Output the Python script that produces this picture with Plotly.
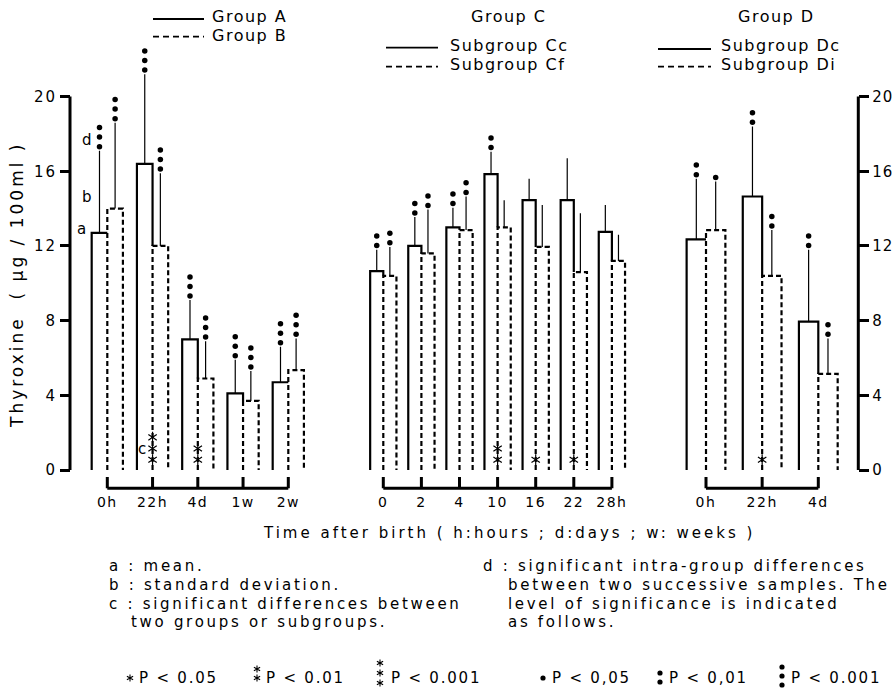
import math
import plotly.graph_objects as go

# ---------------- data ----------------
left_cats = ["0h", "22h", "4d", "1w", "2w"]
groupA_mean = [12.7, 16.4, 7.0, 4.1, 4.7]
groupA_sd = [4.4, 4.8, 2.1, 1.8, 1.9]
groupA_dots = [3, 3, 3, 3, 3]
groupB_mean = [14.0, 12.0, 4.9, 3.7, 5.35]
groupB_sd = [4.6, 3.9, 2.0, 1.6, 1.7]
groupB_dots = [3, 3, 3, 3, 3]
left_stars = [0, 3, 2, 0, 0]

mid_cats = ["0", "2", "4", "10", "16", "22", "28h"]
Cc_mean = [10.65, 12.0, 13.0, 15.85, 14.45, 14.45, 12.75]
Cc_sd = [1.15, 1.55, 1.05, 1.2, 1.15, 2.25, 1.45]
Cc_dots = [2, 2, 2, 2, 0, 0, 0]
Cf_mean = [10.4, 11.6, 12.85, 13.0, 11.95, 10.6, 11.2]
Cf_sd = [1.55, 2.35, 1.8, 1.45, 2.25, 3.15, 1.4]
Cf_dots = [2, 2, 2, 0, 0, 0, 0]
mid_stars = [0, 0, 0, 2, 1, 1, 0]

right_cats = ["0h", "22h", "4d"]
Dc_mean = [12.35, 14.65, 7.95]
Dc_sd = [3.25, 3.75, 3.85]
Dc_dots = [2, 2, 2]
Di_mean = [12.85, 10.4, 5.15]
Di_sd = [2.6, 2.45, 1.9]
Di_dots = [1, 2, 2]
right_stars = [0, 1, 0]

y_ticks = [0, 4, 8, 12, 16, 20]

# ---------------- layout constants ----------------
FONT = "DejaVu Sans"
W, H = 896, 689
Y0_PX, PX_PER_UNIT = 470.0, 18.67
Y_MIN, Y_MAX = -1.2, 24.0
BW = 0.345          # bar width in category units
DOT_OFF, DOT_STEP = 0.22, 0.51
STAR_BASE, STAR_STEP = 0.55, 0.6
BRACKET_Y, BRACKET_TICK = -0.98, -0.38


def ypx(v):
    return Y0_PX - PX_PER_UNIT * v


def fx(px):
    return px / W


def fy(py):
    return 1 - py / H


def sp(text, ls):
    return f'<span style="letter-spacing:{ls}px">{text}</span>'


y_domain = [fy(ypx(Y_MIN)), fy(ypx(Y_MAX))]

panels = [
    dict(xa="x", key="xaxis", cats=left_cats, a=groupA_mean, asd=groupA_sd, ad=groupA_dots,
         b=groupB_mean, bsd=groupB_sd, bd=groupB_dots, stars=left_stars,
         names=("Group A", "Group B"), c0=107.3, step=45.25),
    dict(xa="x2", key="xaxis2", cats=mid_cats, a=Cc_mean, asd=Cc_sd, ad=Cc_dots,
         b=Cf_mean, bsd=Cf_sd, bd=Cf_dots, stars=mid_stars,
         names=("Subgroup Cc", "Subgroup Cf"), c0=383.3, step=38.1),
    dict(xa="x3", key="xaxis3", cats=right_cats, a=Dc_mean, asd=Dc_sd, ad=Dc_dots,
         b=Di_mean, bsd=Di_sd, bd=Di_dots, stars=right_stars,
         names=("Subgroup Dc", "Subgroup Di"), c0=706.0, step=56.15),
]

fig = go.Figure()
layout_axes = {}

for P in panels:
    n = len(P["cats"])
    pos = list(range(n))
    xa = P["xa"]
    # bars (transparent fill, carry the SD error bars)
    for vals, sds, off, name in ((P["a"], P["asd"], -BW, P["names"][0]),
                                 (P["b"], P["bsd"], 0.0, P["names"][1])):
        fig.add_trace(go.Bar(
            x=pos, y=vals, offset=off, width=BW, xaxis=xa, yaxis="y", name=name,
            marker=dict(color="rgba(255,255,255,0)", line=dict(width=0)),
            error_y=dict(type="data", symmetric=False, array=sds, arrayminus=[0] * n,
                         width=0, thickness=1.2, color="black"),
            showlegend=False, hoverinfo="skip"))
    # solid outlines (first series) and dashed outlines (second series)
    sx, sy, dx, dy = [], [], [], []
    for p, a, b in zip(pos, P["a"], P["b"]):
        sx += [p - BW, p - BW, p]
        sy += [0, a, a]
        if a > b:
            sx += [p]
            sy += [b]
        sx.append(None)
        sy.append(None)
        dx += [p, p, p + BW, p + BW, None]
        dy += [0, b, b, 0, None]
    fig.add_trace(go.Scatter(x=sx, y=sy, xaxis=xa, yaxis="y", mode="lines",
                             line=dict(color="black", width=2.2), showlegend=False,
                             hoverinfo="skip"))
    fig.add_trace(go.Scatter(x=dx, y=dy, xaxis=xa, yaxis="y", mode="lines",
                             line=dict(color="black", width=2.2, dash="5px,3px"),
                             showlegend=False, hoverinfo="skip"))
    # significance dots above SD lines
    mx, my = [], []
    for p, m, s, k in zip(pos, P["a"], P["asd"], P["ad"]):
        for j in range(k):
            mx.append(p - BW / 2)
            my.append(m + s + DOT_OFF + j * DOT_STEP)
    for p, m, s, k in zip(pos, P["b"], P["bsd"], P["bd"]):
        for j in range(k):
            mx.append(p + BW / 2)
            my.append(m + s + DOT_OFF + j * DOT_STEP)
    fig.add_trace(go.Scatter(x=mx, y=my, xaxis=xa, yaxis="y", mode="markers",
                             marker=dict(color="black", size=5.5), showlegend=False,
                             hoverinfo="skip"))
    # asterisks between groups (six-spoke: y-up + y-down markers)
    ax_, ay_ = [], []
    for p, k in zip(pos, P["stars"]):
        for j in range(k):
            ax_.append(p)
            ay_.append(STAR_BASE + j * STAR_STEP)
    if ax_:
        for sym in ("y-up-open", "y-down-open"):
            fig.add_trace(go.Scatter(x=ax_, y=ay_, xaxis=xa, yaxis="y", mode="markers",
                                     marker=dict(symbol=sym, size=7, color="black",
                                                 line=dict(color="black", width=1.2)),
                                     showlegend=False, hoverinfo="skip"))
    # bracket under the bars
    bx = [0, n - 1, None]
    by = [BRACKET_Y, BRACKET_Y, None]
    for p in pos:
        bx += [p, p, None]
        by += [BRACKET_Y, BRACKET_TICK, None]
    fig.add_trace(go.Scatter(x=bx, y=by, xaxis=xa, yaxis="y", mode="lines",
                             line=dict(color="black", width=3), showlegend=False,
                             hoverinfo="skip"))
    layout_axes[P["key"]] = dict(
        domain=[fx(P["c0"] - 0.5 * P["step"]), fx(P["c0"] + (n - 0.5) * P["step"])],
        range=[-0.5, n - 0.5], tickvals=pos, ticktext=[sp(c, 1.5) for c in P["cats"]],
        tickfont=dict(family=FONT, size=14, color="black"), showgrid=False,
        zeroline=False, showline=False, ticks="", anchor="y", fixedrange=True)

# invisible trace so that the right-hand axis is drawn
fig.add_trace(go.Scatter(x=[0], y=[0], xaxis="x3", yaxis="y2", mode="markers",
                         marker=dict(opacity=0), showlegend=False, hoverinfo="skip"))

yax_common = dict(range=[Y_MIN, Y_MAX], domain=y_domain, tickvals=y_ticks,
                  tickfont=dict(family=FONT, size=15, color="black"),
                  ticks="outside", ticklen=10, tickwidth=2.5, tickcolor="black",
                  showgrid=False, zeroline=False, showline=False, fixedrange=True)

shapes = [
    dict(type="line", xref="paper", yref="y", x0=fx(70), x1=fx(70), y0=0, y1=20,
         line=dict(color="black", width=3)),
    dict(type="line", xref="paper", yref="y", x0=fx(858.3), x1=fx(858.3), y0=0, y1=20,
         line=dict(color="black", width=3)),
]


def legline(x0, x1, y, dashed):
    return dict(type="line", xref="paper", yref="paper", x0=fx(x0), x1=fx(x1),
                y0=fy(y), y1=fy(y),
                line=dict(color="black", width=1.8, dash="6px,4px" if dashed else "solid"))


shapes += [legline(153, 204, 19, False), legline(153, 204, 36.7, True),
           legline(386, 438, 47.7, False), legline(386, 438, 66.7, True),
           legline(658, 711, 49, False), legline(658, 711, 66.7, True)]


def dot(cx, cy, r=2.6):
    return dict(type="circle", xref="paper", yref="paper", x0=fx(cx - r), x1=fx(cx + r),
                y0=fy(cy + r), y1=fy(cy - r), fillcolor="black", line=dict(width=0))


def star(cx, cy, r=3.6):
    segs = []
    for ang in (90, 30, 150):
        dxp = r * math.cos(math.radians(ang))
        dyp = r * math.sin(math.radians(ang))
        segs.append(f"M{fx(cx - dxp):.5f},{fy(cy + dyp):.5f} L{fx(cx + dxp):.5f},{fy(cy - dyp):.5f}")
    return dict(type="path", xref="paper", yref="paper", path=" ".join(segs),
                line=dict(color="black", width=1.1))


shapes += [dot(543, 678), dot(660, 673), dot(660, 682),
           dot(782, 667), dot(782, 676), dot(782, 685)]
shapes += [star(130, 678), star(257, 669), star(257, 678),
           star(380, 663), star(380, 673), star(380, 683)]


def ann(text, x, y, size=15, ls=2.7, xanchor="left", angle=0):
    return dict(text=sp(text, ls) if ls else text, x=fx(x), y=fy(y), xref="paper",
                yref="paper", xanchor=xanchor, yanchor="middle", showarrow=False,
                borderpad=0, textangle=angle,
                font=dict(family=FONT, size=size, color="black"))


annotations = [
    ann("Group A", 211, 16, 16, 1.5), ann("Group B", 211, 35, 16, 1.5),
    ann("Group C", 508, 16, 16, 1.5, "center"),
    ann("Subgroup Cc", 449, 45, 16, 1.5), ann("Subgroup Cf", 449, 64, 16, 1.5),
    ann("Group D", 776, 16, 16, 1.5, "center"),
    ann("Subgroup Dc", 720, 45, 16, 1.5), ann("Subgroup Di", 720, 65, 16, 1.5),
    ann("Thyroxine  ( \u00b5g / 100ml )", 17, 285, 17, 3, "center", -90),
    ann("d", 87, 140, 15, 0, "center"), ann("b", 87, 197, 15, 0, "center"),
    ann("a", 81, 229, 15, 0, "center"), ann("c", 142, 449, 15, 0, "center"),
    ann("Time after birth ( h:hours ; d:days ; w: weeks )", 509, 533, 15, 3.0, "center"),
    ann("a : mean.", 108, 566), ann("b : standard deviation.", 108, 585),
    ann("c : significant differences between", 108, 604),
    ann("two groups or subgroups.", 130, 622),
    ann("d : significant intra-group differences", 482, 566),
    ann("between two successive samples. The", 507, 585),
    ann("level of significance is indicated", 507, 604),
    ann("as follows.", 507, 622),
    ann("P < 0.05", 138, 678, 15, 1.8),
    ann("P < 0.01", 265, 678, 15, 1.8),
    ann("P < 0.001", 390, 678, 15, 1.8),
    ann("P < 0,05", 551, 678, 15, 1.8), ann("P < 0,01", 668, 678, 15, 1.8),
    ann("P < 0.001", 790, 678, 15, 1.8),
]

fig.update_layout(
    width=W, height=H, autosize=False,
    margin=dict(l=0, r=0, t=0, b=0, pad=0),
    paper_bgcolor="white", plot_bgcolor="white",
    barmode="overlay", showlegend=False,
    font=dict(family=FONT, color="black"),
    yaxis=dict(anchor="free", position=fx(70), side="left",
               ticktext=[sp(str(t), 2) for t in y_ticks], **yax_common),
    yaxis2=dict(anchor="free", position=fx(858.3), side="right", overlaying="y",
                ticktext=[sp(str(t), 1) for t in y_ticks], **yax_common),
    shapes=shapes, annotations=annotations,
    **layout_axes,
)

fig.write_html("out.html", config={"displayModeBar": False},
               post_script="document.body.style.margin='0px';"
                           "document.body.style.overflow='hidden';")
